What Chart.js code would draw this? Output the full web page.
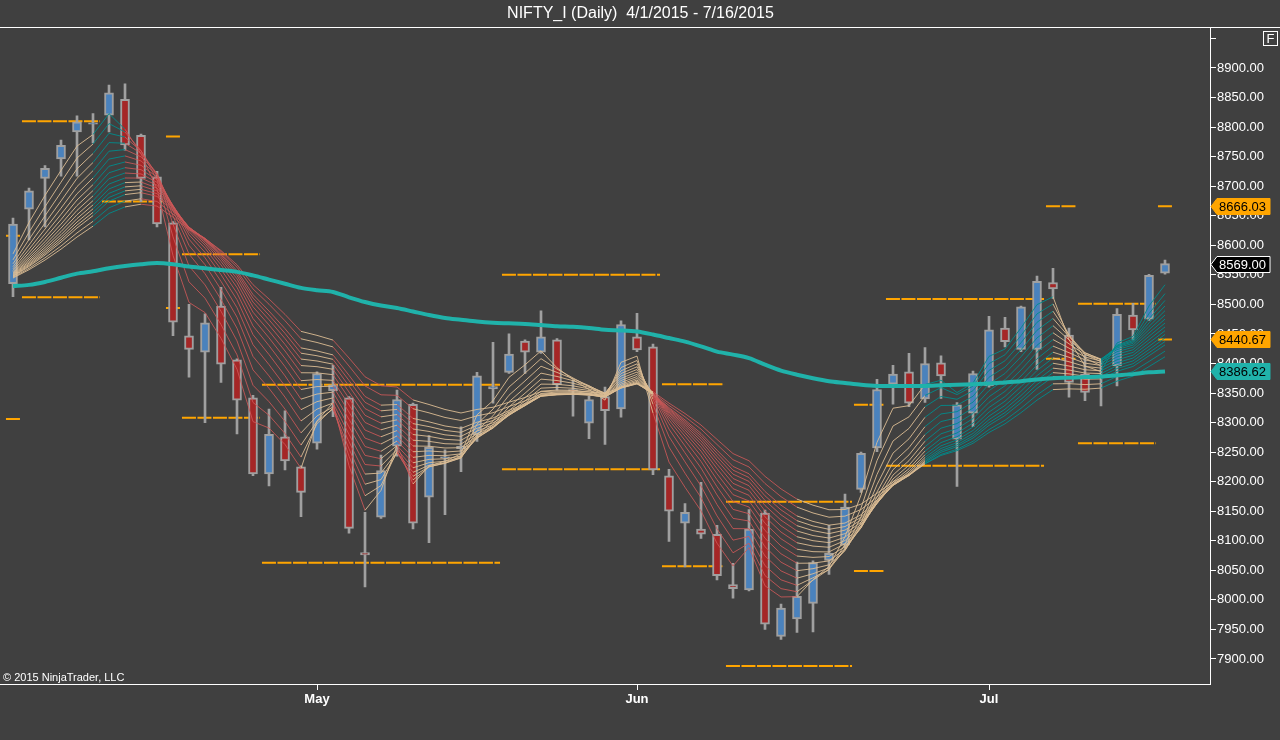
<!DOCTYPE html>
<html>
<head>
<meta charset="utf-8">
<title>NIFTY_I (Daily)</title>
<script src="https://cdn.jsdelivr.net/npm/chart.js@4.4.1/dist/chart.umd.min.js"></script>
<style>
  html, body { margin: 0; padding: 0; background: #404040; }
  canvas { display: block; }
</style>
</head>
<body>
<canvas id="chart" width="1280" height="740"></canvas>
<script>
// trading days, 2015
const dates = [
  '4/1','4/6','4/7','4/8','4/9','4/10','4/13','4/15','4/16','4/17','4/20','4/21','4/22','4/23','4/24','4/27','4/28','4/29','4/30',
  '5/4','5/5','5/6','5/7','5/8','5/11','5/12','5/13','5/14','5/15','5/18','5/19','5/20','5/21','5/22','5/25','5/26','5/27','5/28','5/29',
  '6/1','6/2','6/3','6/4','6/5','6/8','6/9','6/10','6/11','6/12','6/15','6/16','6/17','6/18','6/19','6/22','6/23','6/24','6/25','6/26','6/29','6/30',
  '7/1','7/2','7/3','7/6','7/7','7/8','7/9','7/10','7/13','7/14','7/15','7/16'
];
const open = [
  8535,8661,8713,8746,8792,8805,8820,8847,8786,8716,8638,8447,8419,8497,8406,8342,8213,8276,8225,
  8265,8354,8342,8080,8140,8260,8331,8174,8240,8256,8279,8357,8385,8438,8419,8440,8356,8299,8344,8323,
  8445,8428,8210,8130,8120,8111,8026,8017,8147,7938,7968,7994,8067,8093,8187,8257,8365,8386,8340,8401,8272,8316,
  8362,8460,8424,8424,8537,8448,8382,8376,8396,8482,8475,8553
];
const high = [
  8646,8697,8735,8778,8819,8823,8871,8873,8788,8725,8640,8500,8484,8529,8408,8346,8323,8320,8227,
  8386,8397,8344,8148,8245,8355,8333,8278,8254,8293,8385,8436,8450,8440,8489,8442,8372,8345,8360,8472,
  8485,8433,8221,8163,8199,8126,8062,8153,8152,7993,8064,8066,8126,8179,8250,8373,8397,8417,8427,8413,8334,8387,
  8480,8478,8497,8548,8561,8460,8414,8406,8493,8502,8551,8575
];
const low = [
  8513,8609,8631,8717,8717,8773,8792,8761,8674,8631,8447,8377,8300,8368,8281,8210,8193,8220,8141,
  8255,8310,8113,8022,8138,8243,8120,8097,8144,8217,8268,8333,8383,8383,8417,8355,8311,8273,8263,8309,
  8420,8212,8099,8056,8104,8034,8003,8015,7950,7933,7945,7946,8043,8087,8182,8251,8331,8327,8334,8341,8192,8293,
  8360,8428,8420,8390,8510,8343,8337,8328,8362,8440,8473,8551
];
const close = [
  8636,8692,8730,8769,8809,8807,8858,8770,8713,8636,8470,8424,8469,8399,8338,8213,8280,8235,8182,
  8383,8364,8121,8076,8219,8339,8130,8258,8242,8260,8379,8361,8416,8419,8445,8364,8353,8339,8320,8466,
  8423,8220,8150,8148,8111,8041,8019,8120,7959,7986,8006,8063,8079,8157,8248,8356,8382,8333,8400,8379,8330,8383,
  8457,8437,8496,8539,8526,8368,8351,8377,8483,8457,8549,8569
];
// thick teal average, read bar by bar
const slowMA = [
  8531,8533,8538,8545,8552,8556,8561,8565,8568,8570,8568,8564,8561,8558,8555,8549,8542,8535,8528,
  8524,8521,8512,8504,8498,8494,8488,8482,8477,8474,8471,8469,8468,8467,8465,8463,8462,8460,8457,8456,
  8454,8449,8443,8437,8429,8420,8415,8409,8398,8388,8381,8375,8370,8367,8364,8362,8362,8362,8362,8363,8364,8365,
  8366,8368,8370,8373,8375,8376,8377,8378,8380,8382,8385,8386.62
];
// ribbon of moving averages of the close
const ribbonPeriods = [3,4,5,6,7,8,9,10,11,12,13,14,15,16,18,20];
// ribbon state per bar: U rising, D falling, F flat / crossing, M mixed
const trend = [
  'F','F','F','F','F','F','U','U','M','M',
  'D','D','D','D','D','D','D','D','D','F',
  'F','D','D','M','M','M','F','F','F','F',
  'F','F','F','F','F','F','F','F','F','F',
  'F','D','D','D','D','D','D','D','D','D',
  'F','F','F','F','F','F','F','F','U','U',
  'U','U','U','U','U','U','F','F','F','U',
  'U','U','U'
];
// orange high / low levels, by bar range
const levelFrom = [0, 1, 6, 10, 11, 16, 31, 41, 45, 53, 55, 65, 67, 72];
const levelTo   = [0, 5, 9, 10, 15, 30, 40, 44, 52, 54, 64, 66, 71, 72];
const levelHigh = [8616, 8810, null, 8784, 8585, 8364, 8550, 8365, 8166, 8330, 8509, 8666, 8501, 8666.03];
const levelLow  = [8306, 8512, 8674, 8494, 8308, 8063, 8221, 8057, 7888, 8049, 8227, 8408, 8265, 8440.67];

const monthNames = ['Jan','Feb','Mar','Apr','May','Jun','Jul','Aug','Sep','Oct','Nov','Dec'];
const monthStarts = [];
for (let i = 1; i < dates.length; i++) {
  if (dates[i].split('/')[0] !== dates[i - 1].split('/')[0]) monthStarts.push(i);
}

const UP = '#4a82bd', DOWN = '#a52626', EDGE = '#a0a0a0';
const TEAL = 'rgba(0,140,140,0.9)', RED = 'rgba(205,88,88,0.85)', WHEAT = 'rgba(220,188,148,0.9)';
const ORANGE = '#ffa500';

function ema(period) {
  const a = 2 / (period + 1);
  let v = open[0];
  return close.map(c => (v = v + a * (c - v)));
}
const ribbon = ribbonPeriods.map(ema);

function ribbonColor(k, i) {
  const t = trend[i];
  if (t === 'U') return TEAL;
  if (t === 'D') return RED;
  if (t === 'M') return ribbon[k][i] < ribbon[k][i - 1] ? RED : WHEAT;
  return WHEAT;
}

function levelPoints(values) {
  const pts = [];
  values.forEach((v, j) => {
    if (v == null) return;
    pts.push({ x: levelFrom[j] - 0.44, y: v }, { x: levelTo[j] + 0.44, y: v }, { x: levelTo[j] + 0.5, y: null });
  });
  return pts;
}

const datasets = [];
datasets.push({
  type: 'line', label: 'MA', order: 0,
  data: slowMA.map((v, i) => ({ x: i, y: v })),
  borderColor: '#20b2aa', borderWidth: 4, pointRadius: 0, tension: 0.3
});
ribbon.forEach((line, k) => {
  datasets.push({
    type: 'line', label: 'EMA ' + ribbonPeriods[k], order: 1,
    data: line.map((v, i) => ({ x: i, y: v })),
    borderWidth: 1, pointRadius: 0, borderColor: WHEAT,
    segment: { borderColor: ctx => ribbonColor(k, ctx.p1DataIndex) }
  });
});
datasets.push({
  type: 'bar', label: 'body', order: 2, grouped: false,
  data: open.map((o, i) => ({ x: i, y: [o, close[i]] })),
  backgroundColor: open.map((o, i) => close[i] >= o ? UP : DOWN),
  borderColor: EDGE, borderWidth: 2, borderSkipped: false, barThickness: 9
});
datasets.push({
  type: 'bar', label: 'wick', order: 3, grouped: false,
  data: low.map((l, i) => ({ x: i, y: [l, high[i]] })),
  backgroundColor: EDGE, barThickness: 2
});
[levelHigh, levelLow].forEach((vals, n) => {
  datasets.push({
    type: 'line', label: n ? 'low' : 'high', order: 4,
    data: levelPoints(vals), spanGaps: false,
    borderColor: ORANGE, borderWidth: 2, borderDash: [14, 1.5], pointRadius: 0
  });
});

const overlay = {
  id: 'overlay',
  afterDraw(chart) {
    const c = chart.ctx, area = chart.chartArea, ys = chart.scales.y;
    c.save();
    c.strokeStyle = '#ffffff';
    c.lineWidth = 1;
    c.beginPath();
    c.moveTo(0, Math.round(area.top) + 0.5); c.lineTo(1280, Math.round(area.top) + 0.5);
    c.moveTo(0, Math.round(area.bottom) + 0.5); c.lineTo(area.right, Math.round(area.bottom) + 0.5);
    c.stroke();
    c.strokeRect(1263.5, 31.5, 14, 14);
    c.fillStyle = '#ffffff';
    c.font = '13px Arial, "Liberation Sans", sans-serif';
    c.textAlign = 'center'; c.textBaseline = 'middle';
    c.fillText('F', 1270.5, 39);
    c.textAlign = 'left'; c.textBaseline = 'alphabetic';
    c.font = '11px Arial, "Liberation Sans", sans-serif';
    c.fillText('\u00a9 2015 NinjaTrader, LLC', 3, 681);

    const last = close.length - 1;
    const tags = [
      { v: levelHigh[levelHigh.length - 1], bg: ORANGE, fg: '#000', edge: ORANGE },
      { v: close[last], bg: '#000', fg: '#fff', edge: '#fff' },
      { v: levelLow[levelLow.length - 1], bg: ORANGE, fg: '#000', edge: ORANGE },
      { v: slowMA[last], bg: '#20b2aa', fg: '#000', edge: '#20b2aa' }
    ];
    c.font = '13px Arial, "Liberation Sans", sans-serif';
    c.textBaseline = 'middle';
    tags.forEach(t => {
      const y = Math.round(ys.getPixelForValue(t.v)) + 0.5;
      c.beginPath();
      c.moveTo(area.right + 1, y);
      c.lineTo(area.right + 7, y - 8);
      c.lineTo(1270, y - 8);
      c.lineTo(1270, y + 8);
      c.lineTo(area.right + 7, y + 8);
      c.closePath();
      c.fillStyle = t.bg; c.fill();
      c.strokeStyle = t.edge; c.stroke();
      c.fillStyle = t.fg;
      c.fillText(t.v.toFixed(2), area.right + 9, y + 1);
    });
    c.restore();
  }
};

new Chart(document.getElementById('chart'), {
  type: 'bar',
  data: { datasets },
  plugins: [overlay],
  options: {
    responsive: false,
    animation: false,
    layout: { padding: { left: 1, right: 0, top: 0, bottom: 0 } },
    plugins: {
      legend: { display: false },
      tooltip: { enabled: false },
      title: {
        display: true,
        text: 'NIFTY_I (Daily)  4/1/2015 - 7/16/2015',
        color: '#ffffff',
        font: { family: 'Arial, "Liberation Sans", sans-serif', size: 16, weight: 'normal' },
        padding: { top: 4, bottom: 4 }
      }
    },
    scales: {
      x: {
        type: 'linear',
        min: -0.75,
        max: 74.8125,
        offset: false,
        grid: { drawOnChartArea: false, drawTicks: true, tickLength: 6, color: '#ffffff', offset: false },
        border: { display: true, color: '#ffffff' },
        afterBuildTicks: scale => { scale.ticks = monthStarts.map(v => ({ value: v })); },
        afterFit: scale => { scale.height = 56; },
        ticks: {
          autoSkip: false, maxRotation: 0, padding: 2, color: '#ffffff',
          font: { family: 'Arial, "Liberation Sans", sans-serif', size: 13, weight: 'bold' },
          callback: v => monthNames[parseInt(dates[v].split('/')[0], 10) - 1]
        }
      },
      y: {
        position: 'right',
        min: 7857.7,
        max: 8969,
        grid: { drawOnChartArea: false, drawTicks: true, tickLength: 6, color: '#ffffff' },
        border: { display: true, color: '#ffffff' },
        afterFit: scale => { scale.width = 70; },
        ticks: {
          stepSize: 50, includeBounds: false, autoSkip: false, padding: 1, color: '#ffffff',
          font: { family: 'Arial, "Liberation Sans", sans-serif', size: 13 },
          callback: v => v > 8925 ? '' : v.toFixed(2)
        }
      }
    }
  }
});
</script>
</body>
</html>
